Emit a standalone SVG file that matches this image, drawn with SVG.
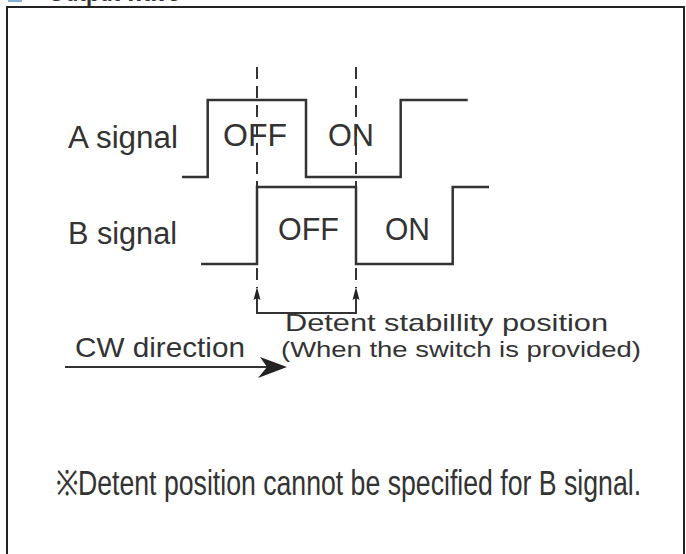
<svg xmlns="http://www.w3.org/2000/svg" width="686" height="554" viewBox="0 0 686 554">
  <style>
    .lbl { font-family: "Liberation Sans", Arial, sans-serif; fill: #333; }
    .sig { fill: none; stroke: #333; stroke-width: 2.5; stroke-linejoin: miter; }
    .dash { fill: none; stroke: #333; stroke-width: 2; stroke-dasharray: 12 7; }
    .solid { fill: none; stroke: #333; stroke-width: 2; }
    .head { fill: #222; }
  </style>
  <rect width="686" height="554" fill="#ffffff"/>
  <g id="header">
    <rect x="8" y="-10" width="14" height="12" fill="#7fb0d8"/>
    <text x="48" y="1" class="lbl" font-size="22" font-weight="bold" fill="#222">Output wave</text>
  </g>
  <g id="frame">
    <rect x="7" y="7" width="677" height="560" fill="none" stroke="#222" stroke-width="2"/>
  </g>
  <g id="A-signal">
    <text x="68" y="148" class="lbl" font-size="31" textLength="110" lengthAdjust="spacingAndGlyphs">A signal</text>
    <polyline class="sig" points="182,177 207.7,177 207.7,100 306,100 306,177 400.7,177 400.7,100 467.7,100"/>
    <text x="223" y="146" class="lbl" font-size="31" textLength="64" lengthAdjust="spacingAndGlyphs">OFF</text>
    <text x="328" y="146" class="lbl" font-size="31" textLength="46" lengthAdjust="spacingAndGlyphs">ON</text>
  </g>
  <g id="B-signal">
    <text x="68" y="244" class="lbl" font-size="31" textLength="109" lengthAdjust="spacingAndGlyphs">B signal</text>
    <polyline class="sig" points="201,264 257,264 257,187 356,187 356,264 452.7,264 452.7,187 489,187"/>
    <text x="278" y="240" class="lbl" font-size="31" textLength="61" lengthAdjust="spacingAndGlyphs">OFF</text>
    <text x="385" y="240" class="lbl" font-size="31" textLength="45" lengthAdjust="spacingAndGlyphs">ON</text>
  </g>
  <g id="connectors">
    <line class="dash" x1="257" y1="67" x2="257" y2="187"/>
    <line class="dash" x1="356" y1="67" x2="356" y2="187"/>
    <line class="dash" x1="257" y1="268" x2="257" y2="288"/>
    <line class="dash" x1="356" y1="268" x2="356" y2="288"/>
    <polyline class="solid" points="257,298 257,313 356,313 356,298"/>
    <polygon class="head" points="257,287 260.5,300 257,298 253.5,300"/>
    <polygon class="head" points="356,287 359.5,300 356,298 352.5,300"/>
    <line class="solid" x1="65" y1="367" x2="270" y2="367" stroke-width="2.5"/>
    <path d="M287 367 L260 357 L267 367 L258 378 Z" fill="#222"/>
  </g>
  <g id="detent-label">
    <text x="285" y="331" class="lbl" font-size="24" textLength="323" lengthAdjust="spacingAndGlyphs">Detent stabillity position</text>
    <text x="281" y="357" class="lbl" font-size="22" textLength="360" lengthAdjust="spacingAndGlyphs">(When the switch is provided)</text>
  </g>
  <g id="cw-label">
    <text x="75" y="357" class="lbl" font-size="28" textLength="170" lengthAdjust="spacingAndGlyphs">CW direction</text>
  </g>
  <g id="note">
    <text transform="translate(56,495) scale(0.71,1)" x="0" y="0" class="lbl" font-size="35" fill="#222" textLength="824" lengthAdjust="spacingAndGlyphs">※Detent position cannot be specified for B signal.</text>
  </g>
</svg>
